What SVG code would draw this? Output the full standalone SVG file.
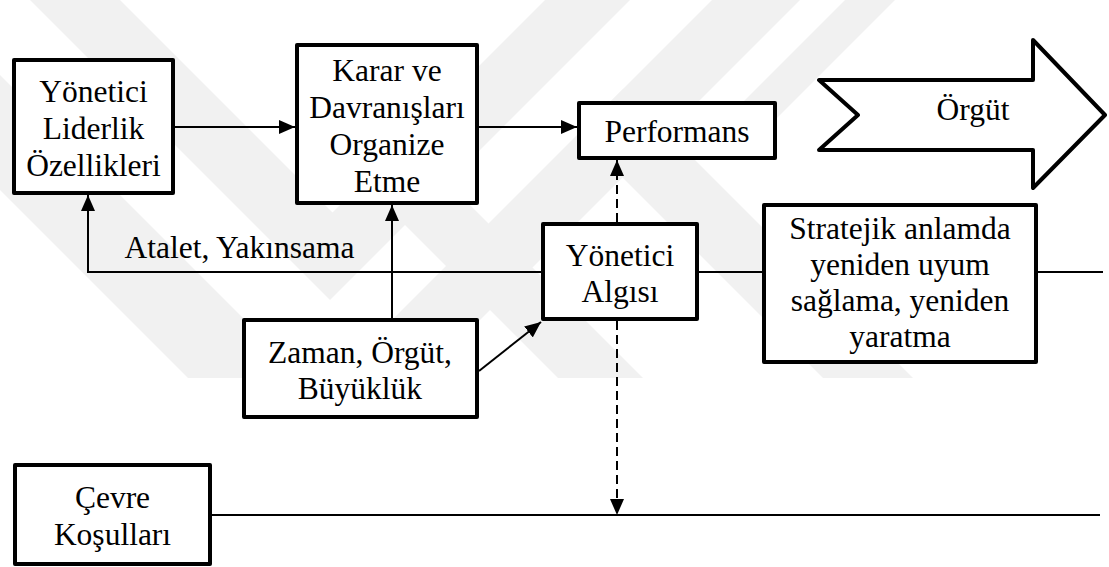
<svg xmlns="http://www.w3.org/2000/svg" width="1109" height="567" viewBox="0 0 1109 567">
  <defs>
    <style>
      .box { fill: #ffffff; stroke: #000000; stroke-width: 4; stroke-linejoin: round; }
      .lbl { font-family: 'Liberation Serif', 'DejaVu Serif', 'Noto Serif', serif; font-size: 31.5px; fill: #000000; text-anchor: middle; }
      .con { fill: none; stroke: #000000; stroke-width: 2; }
      .dash { stroke-dasharray: 9 5; }
      .wm { fill: #f1f1f1; }
    </style>
    <marker id="arrow" viewBox="0 0 16 14" refX="16" refY="7" markerWidth="16" markerHeight="14" markerUnits="userSpaceOnUse" orient="auto">
      <path d="M0,0 L16,7 L0,14 Z" fill="#000000"/>
    </marker>
    <clipPath id="wm-clip">
      <rect x="0" y="0" width="1109" height="378"/>
    </clipPath>
  </defs>

  <rect width="1109" height="567" fill="#ffffff"/>

  <!-- faint background emblem: diagonal chevron stripes -->
  <g id="background-emblem" clip-path="url(#wm-clip)">
    <polygon class="wm" points="30,0 120,0 332.5,212.5 545,0 630,0 330,300"/>
    <polygon class="wm" points="-190,0 -75,0 318.5,393.5 712,0 800,0 305,495"/>
    <polygon class="wm" points="845,0 895,0 745,150 695,150"/>
    <polygon class="wm" points="405,140 643,378 558,378 362.5,182.5"/>
    <polygon class="wm" points="623.5,88.5 913,378 823,378 578.5,133.5"/>
  </g>

  <!-- connectors -->
  <g id="connectors">
    <line class="con" x1="175" y1="127" x2="295" y2="127" marker-end="url(#arrow)"/>
    <line class="con" x1="479" y1="127" x2="577" y2="127" marker-end="url(#arrow)"/>
    <polyline class="con" points="541,272 88,272 88,195" marker-end="url(#arrow)"/>
    <line class="con" x1="392" y1="318" x2="392" y2="205" marker-end="url(#arrow)"/>
    <line class="con" x1="479" y1="371" x2="541" y2="322" marker-end="url(#arrow)"/>
    <line class="con dash" x1="617" y1="222" x2="617" y2="160" marker-end="url(#arrow)"/>
    <line class="con dash" x1="617" y1="321" x2="617" y2="515" marker-end="url(#arrow)"/>
    <line class="con" x1="699" y1="272" x2="762" y2="272"/>
    <line class="con" x1="1038" y1="272" x2="1103" y2="272"/>
    <line class="con" x1="212" y1="515" x2="1100" y2="515"/>
  </g>

  <g id="yonetici-liderlik">
    <rect class="box" x="14" y="60" width="159" height="133"/>
    <text class="lbl" x="93.5" y="102">Yönetici</text>
    <text class="lbl" x="93.5" y="139">Liderlik</text>
    <text class="lbl" x="93.5" y="176">Özellikleri</text>
  </g>

  <g id="karar">
    <rect class="box" x="297" y="45" width="180" height="158"/>
    <text class="lbl" x="387" y="81">Karar ve</text>
    <text class="lbl" x="387" y="118">Davranışları</text>
    <text class="lbl" x="387" y="155">Organize</text>
    <text class="lbl" x="387" y="192">Etme</text>
  </g>

  <g id="performans">
    <rect class="box" x="579" y="103" width="196" height="55"/>
    <text class="lbl" x="677" y="142">Performans</text>
  </g>

  <g id="orgut">
    <polygon class="box" stroke-linejoin="miter" points="819,80 1033,80 1033,40 1105,115 1033,188 1033,150 819,150 858,115"/>
    <text class="lbl" x="973" y="120">Örgüt</text>
  </g>

  <g id="atalet-label">
    <text class="lbl" x="239.5" y="258">Atalet, Yakınsama</text>
  </g>

  <g id="yonetici-algisi">
    <rect class="box" x="543" y="224" width="154" height="95"/>
    <text class="lbl" x="620" y="266">Yönetici</text>
    <text class="lbl" x="620" y="302">Algısı</text>
  </g>

  <g id="stratejik">
    <rect class="box" x="764" y="205" width="272" height="157"/>
    <text class="lbl" x="900" y="239">Stratejik anlamda</text>
    <text class="lbl" x="900" y="275">yeniden uyum</text>
    <text class="lbl" x="900" y="311">sağlama, yeniden</text>
    <text class="lbl" x="900" y="347">yaratma</text>
  </g>

  <g id="zaman">
    <rect class="box" x="244" y="320" width="233" height="97"/>
    <text class="lbl" x="360" y="363">Zaman, Örgüt,</text>
    <text class="lbl" x="360" y="399">Büyüklük</text>
  </g>

  <g id="cevre">
    <rect class="box" x="15" y="465" width="195" height="99"/>
    <text class="lbl" x="112.5" y="508">Çevre</text>
    <text class="lbl" x="112.5" y="545">Koşulları</text>
  </g>
</svg>
